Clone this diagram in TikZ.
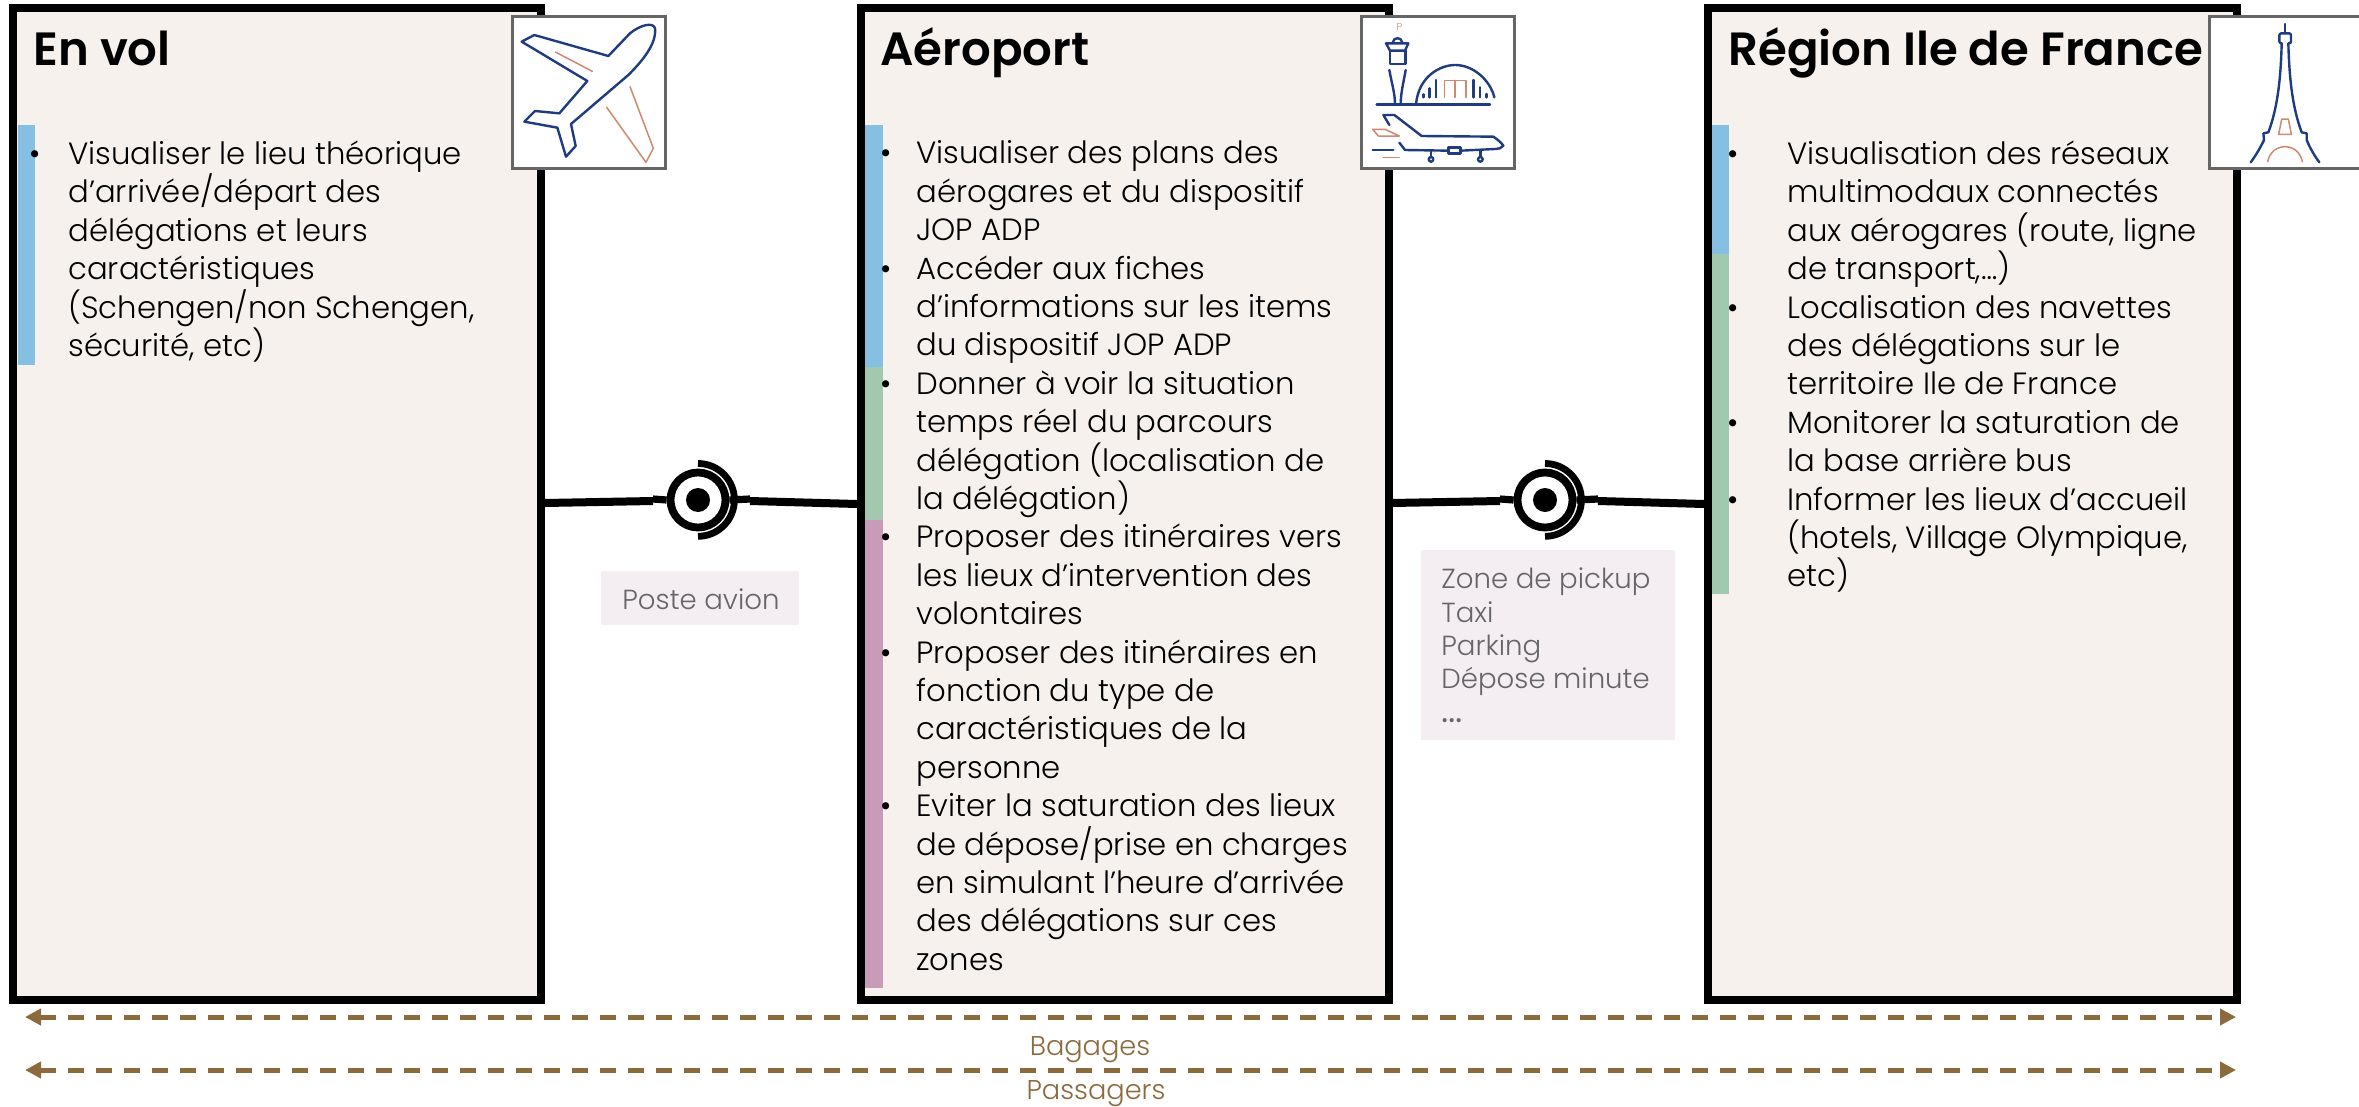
\documentclass[tikz,border=0pt]{standalone}
\usepackage{fontspec}
\setmainfont{Poppins}[UprightFont=* Light,BoldFont=* SemiBold]
\usetikzlibrary{arrows.meta}
\definecolor{panel}{HTML}{F6F1ED}
\definecolor{barblue}{HTML}{85BFE2}
\definecolor{bargreen}{HTML}{A2C8AF}
\definecolor{barpink}{HTML}{C89BB8}
\definecolor{lab}{HTML}{F4EDF1}
\definecolor{labtxt}{HTML}{666666}
\definecolor{brownc}{HTML}{8B6A3E}
\definecolor{iconb}{HTML}{1F3C80}
\definecolor{icono}{HTML}{D0886E}
\newcommand{\bul}[1]{\llap{\makebox[#1][l]{•}}}
\tikzset{
  panelbox/.style={draw=black,line width=4pt,fill=panel,inner sep=0pt},
  iconbox/.style={draw=black!60,line width=1.5pt,fill=white},
  title/.style={anchor=base west,inner sep=0pt,font=\fontsize{23.3}{26}\selectfont\bfseries},
  body/.style={anchor=north west,inner sep=0pt,align=left,font=\fontsize{15.35}{19.2}\selectfont},
  labbox/.style={fill=lab,inner sep=0pt},
  labtext/.style={text=labtxt,inner sep=0pt,anchor=base west,font=\fontsize{13.8}{16}\selectfont},
  link/.style={line width=4pt,black},
  stub/.style={line width=3.6pt,black},
  flow/.style={brownc,line width=2.5pt,dash pattern=on 8pt off 6pt,{Triangle[length=8pt,width=8pt]}-{Triangle[length=8pt,width=8pt]}},
  flowlabel/.style={text=brownc,inner sep=0pt,anchor=base,font=\fontsize{13.6}{16}\selectfont},
  ib/.style={iconb,line width=1.2pt,line join=round,line cap=round},
  io/.style={icono,line width=.75pt,line join=round,line cap=round},
  zoomed/.style={x=0.166667pt,y=-0.166667pt}
}
\begin{document}
\begin{tikzpicture}[x=0.5pt,y=-0.5pt]
\useasboundingbox (0,0) rectangle (2359,1107);
\fill[white] (0,0) rectangle (2359,1107);
% panels
\draw[panelbox] (13,8) rectangle (541,1000);
\draw[panelbox] (861,8) rectangle (1389,1000);
\draw[panelbox] (1708,8) rectangle (2237,1000);
% coloured bars
\fill[barblue] (18,125) rectangle (35,365);
\fill[barblue] (865,125) rectangle (883,367);
\fill[bargreen] (865,367) rectangle (883,520);
\fill[barpink] (865,520) rectangle (883,988);
\fill[barblue] (1712,125) rectangle (1729,254);
\fill[bargreen] (1712,254) rectangle (1729,594);
% titles
\node[title] (t1) at (33,66) {En vol};
\node[title] (t2) at (880,66) {Aéroport};
\node[title] (t3) at (1728,66) {Région Ile de France};
% body
\node[body] (b1) at (68,140.5) {\bul{19.5pt}Visualiser le lieu théorique\\d’arrivée/départ des\\délégations et leurs\\caractéristiques\\(Schengen/non Schengen,\\sécurité, etc)};
\node[body] (b2) at (916,140.5) {\bul{18pt}Visualiser des plans des\\aérogares et du dispositif\\JOP ADP\\\bul{18pt}Accéder aux fiches\\d’informations sur les items\\du dispositif JOP ADP\\\bul{18pt}Donner à voir la situation\\temps réel du parcours\\délégation (localisation de\\la délégation)\\\bul{18pt}Proposer des itinéraires vers\\les lieux d’intervention des\\volontaires\\\bul{18pt}Proposer des itinéraires en\\fonction du type de\\caractéristiques de la\\personne\\\bul{18pt}Eviter la saturation des lieux\\de dépose/prise en charges\\en simulant l’heure d’arrivée\\des délégations sur ces\\zones};
\node[body] (b3) at (1787,140.5) {\bul{30pt}Visualisation des réseaux\\multimodaux connectés\\aux aérogares (route, ligne\\de transport,…)\\\bul{30pt}Localisation des navettes\\des délégations sur le\\territoire Ile de France\\\bul{30pt}Monitorer la saturation de\\la base arrière bus\\\bul{30pt}Informer les lieux d’accueil\\(hotels, Village Olympique,\\etc)};
% icon boxes
\node[iconbox,anchor=north west,minimum width=76.5pt,minimum height=76pt,inner sep=0pt] (i1) at (511,15.5) {};
\node[iconbox,anchor=north west,minimum width=76.5pt,minimum height=76pt,inner sep=0pt] (i2) at (1360,15.5) {};
\node[iconbox,anchor=north west,minimum width=90pt,minimum height=76pt,inner sep=0pt] (i3) at (2207.5,15.5) {};
% plane icon
\begin{scope}[shift={(480,0)},zoomed]
\draw[ib] (385,168) -- (163,105) -- (125,125) -- (322,243) -- (238,340) -- (165,333) -- (133,365) -- (232,383) -- (258,470) -- (287,438) -- (273,372) -- (445,225) .. controls (490,180) and (530,130) .. (525,85) .. controls (520,65) and (480,75) .. (450,100) -- cycle;
\draw[io] (226,156) -- (337,214);
\draw[io] (450,260) -- (520,445) -- (498,487) -- (380,322);
\end{scope}
% airport icon
\begin{scope}[shift={(1340,0)},zoomed]
\node[text=icono,inner sep=0pt,font=\fontsize{5}{6}\selectfont] (pk) at (178,80) {P};
\draw[ib] (110,313) -- (450,313);
\draw[ib] (148,210) .. controls (155,250) and (165,280) .. (165,313);
\draw[ib] (197,210) .. controls (190,250) and (182,280) .. (182,313);
\draw[ib] (138,130) -- (205,130) -- (195,152) -- (150,152) -- cycle;
\draw[ib] (158,128) .. controls (160,110) and (185,110) .. (187,128);
\draw[ib] (150,152) -- (150,192) -- (197,192) -- (197,152);
\draw[ib] (228,313) .. controls (235,230) and (300,195) .. (345,195) .. controls (400,195) and (450,240) .. (463,292);
\foreach \xa/\ya in {250/283,268/265,288/240,400/240,420/262,440/282} \draw[ib] (\xa,\ya) -- (\xa,292);
\draw[io] (313,292) -- (313,241) -- (378,241) -- (378,292);
\draw[io] (345,241) -- (345,292);
\draw[ib] (148,375) -- (130,345) -- (163,345) -- (245,408) -- (460,410) .. controls (475,420) and (485,430) .. (490,437) .. controls (485,445) and (475,447) .. (465,447) -- (362,452);
\draw[ib] (325,452) -- (195,450) -- (178,428);
\draw[ib] (325,442) rectangle (362,460);
\draw[ib] (273,452) -- (273,470);
\draw[ib] (273,478) circle[radius=7];
\draw[ib] (421,452) -- (421,470);
\draw[ib] (421,478) circle[radius=7];
\draw[io] (98,388) -- (135,388) -- (178,408) -- (115,408) -- cycle;
\draw[ib] (98,450) -- (160,450);
\draw[io] (130,472) -- (178,472);
\end{scope}
% eiffel icon
\begin{scope}[shift={(2190,0)},zoomed]
\draw[ib] (285,72) -- (285,100);
\draw[ib,rounded corners=1pt] (275,130) -- (268,130) -- (268,100) -- (303,100) -- (303,130) -- (295,130);
\draw[ib] (275,130) .. controls (272,250) and (260,330) .. (235,397) -- (220,400) -- (222,420) .. controls (210,445) and (195,470) .. (182,487);
\draw[ib] (295,130) .. controls (298,250) and (310,330) .. (335,397) -- (350,400) -- (350,420) .. controls (360,445) and (375,470) .. (388,487);
\draw[io] (275,357) -- (295,357) -- (304,403) -- (266,403) -- cycle;
\draw[io] (233,485) .. controls (245,425) and (325,425) .. (337,485);
\end{scope}
% connectors
\foreach \n/\cx in {A/698,B/1545}{
  \node[circle,draw=black,line width=3.9pt,minimum size=27.5pt,inner sep=0pt] (ring\n) at (\cx,500) {};
  \node[circle,fill=black,minimum size=12pt,inner sep=0pt] (dot\n) at (\cx,500) {};
  \draw[black,line width=3.4pt] (\cx,463.5) arc[start angle=90,end angle=-90,radius=18.2pt];
}
\coordinate (a1) at (545,503); \coordinate (a2) at (653,501); \coordinate (a3) at (653,499);
\coordinate (a4) at (750,499); \coordinate (a5) at (750,501); \coordinate (a6) at (857,504);
\coordinate (c1) at (1392,503); \coordinate (c2) at (1500,501); \coordinate (c3) at (1500,499);
\coordinate (c4) at (1598,499); \coordinate (c5) at (1598,501); \coordinate (c6) at (1704,504);
\draw[link] (a1) -- (a2); \draw[stub] (a3) -- (ringA.west); \draw[stub] (ringA.east) -- (a4); \draw[link] (a5) -- (a6);
\draw[link] (c1) -- (c2); \draw[stub] (c3) -- (ringB.west); \draw[stub] (ringB.east) -- (c4); \draw[link] (c5) -- (c6);
% labels
\fill[lab] (601,571) rectangle (799,625);
\node[labtext] (l1) at (622,609) {Poste avion};
\fill[lab] (1421,550) rectangle (1675,740);
\node[labtext] (l2) at (1441,588) {Zone de pickup};
\node[labtext] (l3) at (1441,622) {Taxi};
\node[labtext] (l4) at (1441,655) {Parking};
\node[labtext] (l5) at (1441,688) {Dépose minute};
\node[labtext,font=\fontsize{20}{20}\selectfont] (l6) at (1441,722) {…};
% flows
\coordinate (fa) at (25,1017); \coordinate (fb) at (2236,1017);
\coordinate (fc) at (25,1070); \coordinate (fd) at (2236,1070);
\draw[flow] (fa) -- (fb);
\draw[flow] (fc) -- (fd);
\node[flowlabel] (fl1) at (1090,1055) {Bagages};
\node[flowlabel] (fl2) at (1096,1099) {Passagers};
\end{tikzpicture}
\end{document}
